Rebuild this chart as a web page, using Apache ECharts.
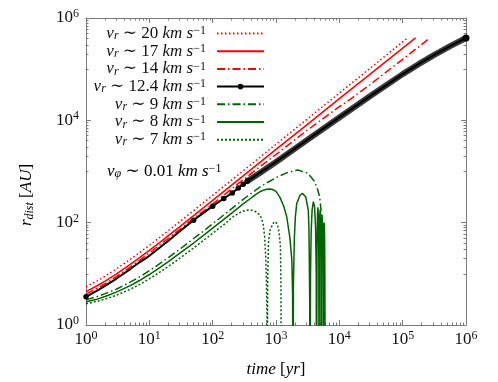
<!DOCTYPE html>
<html>
<head>
<meta charset="utf-8">
<script src="https://cdn.jsdelivr.net/npm/echarts@6/dist/echarts.min.js"></script>
<style>
  html, body { margin: 0; padding: 0; background: #fff; }
  #chart { width: 498px; height: 382px; }
</style>
</head>
<body>
<div id="chart"></div>
<script>
// [time (yr), r_dist (AU)]
const vr20 = [[1, 5.6], [1.5, 7.3], [2, 9.0], [3, 12.4], [5, 19.2], [7, 26], [10, 36], [15, 53], [20, 70], [30, 104], [50, 172], [100, 342], [300, 1022], [1000, 3400], [3000, 10200], [1e4, 34000], [3e4, 102000], [1.2e5, 410000]]
const vr17 = [[1, 4.5], [1.5, 5.85], [2, 7.2], [3, 9.9], [5, 15.3], [7, 20.7], [10, 28.8], [15, 42], [20, 56], [30, 83], [50, 137], [100, 272], [300, 812], [1000, 2700], [3000, 8000], [1e4, 26500], [3e4, 78000], [1e5, 258000], [1.6e5, 410000]]
const vr14 = [[1, 4.0], [1.5, 5.2], [2, 6.4], [3, 8.8], [5, 13.6], [7, 18.4], [10, 25.6], [15, 37.6], [20, 49.6], [30, 73.6], [50, 122], [100, 230], [300, 685], [562, 1250], [1000, 2150], [3000, 6200], [1e4, 18500], [1.47e4, 25500], [3e4, 49000], [1e5, 156000], [2.7e5, 410000]]
const vr124 = [[1, 3.56], [1.5, 4.7], [2, 5.8], [3, 8.0], [5, 12.4], [7, 16.8], [10, 22.5], [15, 33.5], [20, 44.5], [30, 67], [50, 112], [100, 210], [150, 297], [204, 382], [254, 478], [303, 565], [355, 650], [562, 950], [1000, 1540], [3162, 4200], [1e4, 11400], [3.16e4, 30500], [1e5, 80000], [1.78e5, 125000], [3.16e5, 190000], [5.62e5, 282000], [1e6, 407000]]
const vr124Dots = [1, 50, 100, 150, 204, 254, 303, 355, 1e6]
const vr124Band = [[355, 650], [562, 950], [1000, 1540], [3162, 4200], [1e4, 11400], [3.16e4, 30500], [1e5, 80000], [1.78e5, 125000], [3.16e5, 190000], [5.62e5, 282000], [1e6, 407000]]
const vr9 = [[1, 3.1], [1.5, 3.6], [2, 4.1], [3, 5.0], [5, 6.9], [7, 8.7], [10, 11.5], [15, 16.2], [20, 20.8], [30, 30], [50, 49], [70, 67], [100, 95], [150, 142], [200, 188], [300, 281], [400, 370], [562, 500], [700, 590], [1000, 760], [1500, 950], [2200, 1070], [3162, 930], [3981, 660], [4467, 480], [4898, 316], [5129, 178], [5309, 79], [5495, 25], [5689, 7.9], [5821, 2], [5888, 0.01]]
const vr8 = [[1, 2.85], [1.5, 3.2], [2, 3.6], [3, 4.4], [5, 5.9], [7, 7.4], [10, 9.7], [15, 13.5], [20, 17.3], [30, 25], [50, 40], [70, 55], [100, 78], [150, 116], [200, 154], [300, 230], [400, 300], [450, 335], [500, 370], [562, 405], [630, 430], [708, 448], [794, 457], [890, 445], [1000, 410], [1148, 316], [1318, 214], [1479, 129], [1660, 50], [1778, 18.6], [1828, 4], [1862, 0.01],
  [1884, 6.3], [1950, 50], [2018, 126], [2123, 234], [2399, 347], [2630, 372], [2951, 316], [3236, 174], [3311, 79], [3357, 18.6], [3404, 3.2], [3443, 0.01],
  [3508, 10], [3589, 63], [3715, 178], [3890, 257], [4074, 200], [4217, 79], [4315, 10], [4365, 0.01],
  [4446, 32], [4519, 141], [4592, 200], [4677, 126], [4742, 20], [4775, 0.01],
  [4831, 32], [4898, 126], [4977, 178], [5058, 100], [5117, 16], [5152, 0.01],
  [5212, 32], [5284, 112], [5370, 141], [5458, 79], [5521, 12.6], [5559, 0.01],
  [5623, 25], [5702, 79], [5781, 100], [5861, 50], [5916, 8], [5957, 0.01]]
const vr7 = [[1, 2.6], [1.5, 2.9], [2, 3.2], [3, 3.8], [5, 5.0], [7, 6.2], [10, 8], [15, 11], [20, 14], [30, 20], [50, 32], [70, 44], [100, 62], [130, 80], [160, 97], [200, 125], [250, 150], [300, 167], [350, 176], [420, 174], [500, 160], [562, 138], [600, 115], [631, 88], [660, 55], [690, 20], [708, 6], [720, 1.5], [724, 0.01],
  [738, 6.3], [759, 40], [804, 71], [891, 95], [955, 105], [1047, 95], [1122, 62], [1175, 34], [1197, 6.3], [1216, 0.01]]

const legendNums = ['20', '17', '14', '12.4', '9', '8', '7']
const seriesNames = legendNums.map(n => 'v' + n)

// tick values
const xMajor = [1, 10, 100, 1e3, 1e4, 1e5, 1e6]
const yMajor = [1, 1e2, 1e4, 1e6]
const xMinor = []
for (const d of [1, 10, 100, 1e3, 1e4, 1e5]) {
  for (let m = 2; m <= 9; m++) xMinor.push(m * d)
}
const yMinor = []
for (const d of [10, 1e3, 1e5]) {
  for (let m = 1; m <= 9; m++) yMinor.push(m * d)
}

const RED = '#ff0000'
const GREEN = '#006400'
const AXIS = '#7a7a7a'
const TXT = '#111'
const FONT = '"Liberation Serif", "DejaVu Serif", serif'

const richText = {
  i: { fontFamily: FONT, fontStyle: 'italic', fontSize: 17, lineHeight: 17, color: TXT },
  n: { fontFamily: FONT, fontSize: 17, lineHeight: 17, color: TXT },
  s: { fontFamily: FONT, fontStyle: 'italic', fontSize: 12, lineHeight: 11, verticalAlign: 'bottom', color: TXT },
  p: { fontFamily: FONT, fontSize: 12, lineHeight: 8, verticalAlign: 'top', color: TXT },
  g: { fontSize: 6, width: 6 }
}

const tickRich = {
  b: { fontFamily: FONT, fontSize: 17, lineHeight: 20, color: TXT },
  e: { fontFamily: FONT, fontSize: 12, lineHeight: 10, verticalAlign: 'top', color: TXT }
}
const powLabel = v => '{b|10}{e|' + Math.round(Math.log10(v)) + '}'

// one axis layer: major or minor ticks on one side of the box
const makeAxis = (pos, ticks, len, withLine, withLabels) => ({
  type: 'log',
  logBase: 10,
  gridIndex: 0,
  position: pos,
  min: 1,
  max: 1e6,
  axisLine: { show: withLine, onZero: false, lineStyle: { color: AXIS, width: 1 } },
  axisTick: { show: true, inside: true, length: len, customValues: ticks, lineStyle: { color: AXIS, width: 1 } },
  axisLabel: withLabels
    ? { show: true, customValues: ticks, formatter: powLabel, rich: tickRich, margin: pos === 'left' ? 7 : 5 }
    : { show: false },
  splitLine: { show: false },
  minorTick: { show: false }
})

const dash = [8, 3, 1.5, 3]

const chart = echarts.init(document.getElementById('chart'))

chart.setOption({
  animation: false,
  backgroundColor: '#fff',
  grid: { left: 86, top: 18, width: 380, height: 307 },
  xAxis: [
    makeAxis('bottom', xMajor, 5, true, true),
    makeAxis('bottom', xMinor, 2.5, false, false),
    makeAxis('top', xMajor, 5, true, false),
    makeAxis('top', xMinor, 2.5, false, false)
  ],
  yAxis: [
    makeAxis('left', yMajor, 5, true, true),
    makeAxis('left', yMinor, 2.5, false, false),
    makeAxis('right', yMajor, 5, true, false),
    makeAxis('right', yMinor, 2.5, false, false)
  ],
  legend: {
    orient: 'vertical',
    align: 'right',
    right: 233,
    top: 25,
    padding: 0,
    itemWidth: 47,
    itemHeight: 7,
    itemGap: 0.7,
    selectedMode: false,
    data: seriesNames.map(n => n === 'v12.4'
      ? { name: n }
      : { name: n, itemStyle: { opacity: 0 } }),
    formatter: name => {
      const num = name.slice(1)
      return '{i|v}{s|r}{n| ∼ ' + num + ' }{i|km s}{p|−1}{g| }'
    },
    textStyle: { rich: richText }
  },
  graphic: [
    {
      type: 'text',
      left: 107,
      top: 163,
      style: {
        text: '{i|v}{s|φ}{n| ∼ 0.01 }{i|km s}{p|−1}',
        rich: richText
      }
    },
    {
      type: 'text',
      x: 276,
      y: 370,
      style: {
        text: '{i|time}{n| [}{i|yr}{n|]}',
        rich: richText,
        align: 'center',
        verticalAlign: 'middle'
      }
    },
    {
      type: 'text',
      x: 27,
      y: 195,
      rotation: Math.PI / 2,
      style: {
        text: '{i|r}{s|dist}{n| [}{i|AU}{n|]}',
        rich: richText,
        align: 'center',
        verticalAlign: 'middle'
      }
    }
  ],
  series: [
    {
      name: 'v20', type: 'line', data: vr20, symbol: 'none', z: 3,
      lineStyle: { color: RED, width: 1.5, type: [1.5, 2.5] }, itemStyle: { color: RED }
    },
    {
      name: 'v17', type: 'line', data: vr17, symbol: 'none', z: 3,
      lineStyle: { color: RED, width: 1.5 }, itemStyle: { color: RED }
    },
    {
      name: 'v14', type: 'line', data: vr14, symbol: 'none', z: 3,
      lineStyle: { color: RED, width: 1.5, type: dash }, itemStyle: { color: RED }
    },
    {
      name: '_band', type: 'line', data: vr124Band, symbol: 'none', z: 2,
      lineStyle: { color: '#3a3a3a', width: 6, cap: 'round', join: 'round' }
    },
    {
      name: 'v12.4', type: 'line', z: 4,
      data: vr124.map(p => vr124Dots.includes(p[0])
        ? { value: p, symbolSize: p[0] === 1e6 ? 7 : 5.5 }
        : { value: p, symbol: 'none' }),
      symbol: 'circle', symbolSize: 5.5, showSymbol: true,
      lineStyle: { color: '#000', width: 2 }, itemStyle: { color: '#000' }
    },
    {
      name: 'v9', type: 'line', data: vr9, symbol: 'none', z: 3,
      lineStyle: { color: GREEN, width: 1.5, type: dash }, itemStyle: { color: GREEN }
    },
    {
      name: 'v8', type: 'line', data: vr8, symbol: 'none', z: 3,
      lineStyle: { color: GREEN, width: 1.5 }, itemStyle: { color: GREEN }
    },
    {
      name: 'v7', type: 'line', data: vr7, symbol: 'none', z: 3,
      lineStyle: { color: GREEN, width: 1.5, type: [2, 2] }, itemStyle: { color: GREEN }
    }
  ]
})
</script>
</body>
</html>
